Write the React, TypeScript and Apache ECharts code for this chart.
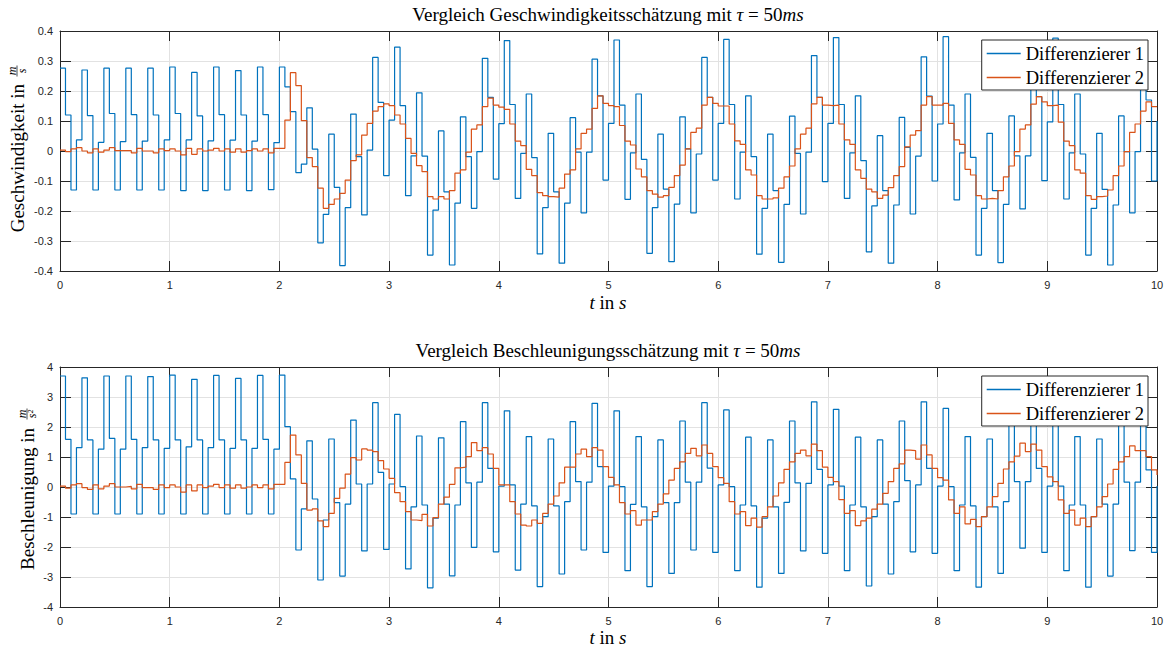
import React, { useEffect, useRef } from "react";
import * as echarts from "echarts";

// ---- data (sample time 50 ms, stairs) ----
const sampleTime = 0.05;
const xTicks = [0, 1, 2, 3, 4, 5, 6, 7, 8, 9, 10];
const seriesNames = ["Differenzierer 1", "Differenzierer 2"];

// Geschwindigkeit, Differenzierer 1
const vel1 = [
  0.276, 0.12, -0.13, 0.037, 0.27, 0.118, -0.13, 0.029, 0.276, 0.125, -0.13, 0.031, 0.276, 0.121, -0.13, 0.033,
  0.276, 0.12, -0.13, 0.037, 0.28, 0.125, -0.132, 0.037, 0.262, 0.117, -0.132, 0.034, 0.28, 0.121, -0.13, 0.036,
  0.268, 0.12, -0.132, 0.033, 0.28, 0.121, -0.129, 0.028,
  0.28, 0.214, 0.131, -0.072, -0.044, 0.144, 0.006, -0.306, -0.211, 0.056, -0.121, -0.382, -0.189, 0.123, -0.019,
  -0.213, 0.003, 0.312, 0.162, -0.082, 0.103, 0.346, 0.151, -0.149, -0.016, 0.194, -0.017, -0.347, -0.197, 0.067,
  -0.136, -0.38, -0.174, 0.114, -0.019, -0.191, -0.002, 0.309, 0.179, -0.094, 0.091, 0.368, 0.155, -0.158, -0.008, 0.19,
  -0.022, -0.343, -0.189, 0.059, -0.136, -0.374, -0.174, 0.111, -0.004, -0.206, -0.004, 0.306, 0.184, -0.097, 0.092,
  0.37, 0.153, -0.161, -0.006, 0.19, -0.028, -0.341, -0.189, 0.056, -0.127, -0.369, -0.177, 0.114, 0.007, -0.206,
  -0.01, 0.312, 0.179, -0.097, 0.092, 0.372, 0.155, -0.16, -0.004,
  0.184, -0.019, -0.344, -0.191, 0.056, -0.132, -0.371, -0.178, 0.116, -0.008, -0.21, -0.004, 0.318, 0.179, -0.102,
  0.092, 0.378, 0.155, -0.158, -0.006, 0.184, -0.032, -0.336, -0.183, 0.051, -0.132, -0.374, -0.18, 0.112, 0.012,
  -0.21, -0.017, 0.314, 0.183, -0.1, 0.09, 0.381, 0.153,
  -0.163, -0.006, 0.19, -0.021, -0.347, -0.191, 0.059, -0.132, -0.372, -0.178, 0.117, -0.016, -0.193, -0.016, 0.31,
  0.181, -0.099, 0.097, 0.376, 0.155, -0.16, -0.006, 0.19, -0.01, -0.347, -0.191, 0.059, -0.128, -0.38, -0.18, 0.117,
  -0.002, -0.206, -0.002, 0.3, 0.17, -0.1, 0.1,
];

// Geschwindigkeit, Differenzierer 2
const vel2 = [
  0.003, -0.002, 0.007, 0.011, 0, -0.006, 0.007, -0.004, 0.003, 0.011, 0.001, 0.001, 0.001, -0.006, 0.009, 0, 0,
  -0.006, 0.007, 0.001, 0.007, 0, -0.013, 0.009, -0.011, 0.007, 0, 0.003, 0.009, 0, 0.007, -0.004, 0.007, -0.004,
  0.001, 0.007, 0, 0.007, -0.006, 0.009, 0.009,
  0.103, 0.261, 0.218, 0.101, -0.022, -0.052, -0.124, -0.191, -0.178, -0.16, -0.141, -0.097, -0.032, -0.013, 0.053,
  0.092, 0.133, 0.148, 0.157, 0.151, 0.12, 0.09, 0.042, -0.008, -0.049, -0.069, -0.152, -0.16, -0.152, -0.16, -0.132,
  -0.074, -0.063, -0.004, 0.073, 0.087, 0.148, 0.176, 0.153, 0.146, 0.139, 0.09, 0.033, 0.018, -0.061,
  -0.082, -0.139, -0.149, -0.152, -0.154, -0.124, -0.077, -0.063, 0.007, 0.059, 0.073, 0.142, 0.184, 0.159, 0.151,
  0.148, 0.085, 0.033, 0.02, -0.06, -0.086, -0.132, -0.144, -0.154, -0.149, -0.121, -0.082, -0.047, 0.007, 0.062,
  0.076, 0.153, 0.179, 0.159, 0.15, 0.15, 0.09, 0.034, 0.022,
  -0.063, -0.08, -0.149, -0.16, -0.16, -0.156, -0.124, -0.086, -0.05, 0.007, 0.056, 0.076, 0.157, 0.179, 0.153,
  0.151, 0.153, 0.09, 0.037, 0.022, -0.063, -0.091, -0.127, -0.136, -0.158, -0.147, -0.122, -0.082, -0.052, 0.014,
  0.053, 0.068, 0.153, 0.181, 0.153, 0.153, 0.159, 0.092,
  0.037, 0.022, -0.061, -0.08, -0.149, -0.16, -0.158, -0.16, -0.132, -0.086, -0.05, -0.002, 0.073, 0.087, 0.156,
  0.181, 0.164, 0.151, 0.153, 0.096, 0.033, 0.018, -0.063, -0.074, -0.149, -0.161, -0.152, -0.15, -0.13, -0.082,
  -0.05, -0.002, 0.062, 0.09, 0.133, 0.164, 0.148, 0.148,
];

// Beschleunigung, Differenzierer 1
const acc1 = [
  3.7, 1.59, -0.9, 1.31, 3.64, 1.57, -0.9, 1.26, 3.7, 1.62, -0.9, 1.26, 3.7, 1.59, -0.9, 1.31, 3.68, 1.57, -0.9, 1.29,
  3.73, 1.57, -0.9, 1.34, 3.59, 1.57, -0.9, 1.31, 3.72, 1.57, -0.9, 1.29, 3.62, 1.57, -0.9, 1.29, 3.72, 1.59, -0.9, 1.26,
  3.73, 2.01, 0.27, -2.1, -0.73, 1.54, -0.4, -3.1, -1.1, 1.6, -0.52, -2.97, -0.57, 2.23, 0.1, -2.13, 0.1, 2.81, 0.49,
  -2.08, 0.1, 2.42, 0.01, -2.73, -0.66, 1.7, -0.6, -3.36, -1.04, 1.64, -0.57, -2.96, -0.6, 2.18, 0.14, -2.01, 0.16,
  2.81, 0.62, -2.16, 0.03, 2.54, 0.07, -2.77, -0.57, 1.68,
  -0.63, -3.32, -0.99, 1.6, -0.63, -2.9, -0.49, 2.18, 0.18, -2.1, 0.16, 2.79, 0.68, -2.18, 0.03, 2.54, 0.01, -2.79,
  -0.58, 1.68, -0.66, -3.32, -0.99, 1.57, -0.52, -2.88, -0.52, 2.2, 0.16, -2.1, 0.16, 2.81, 0.63, -2.18, 0.07, 2.57,
  0.01, -2.79, -0.6,
  1.66, -0.63, -3.34, -1.04, 1.57, -0.66, -2.88, -0.51, 2.2, 0.14, -2.13, 0.12, 2.84, 0.59, -2.21, 0.07, 2.59, 0.03,
  -2.79, -0.6, 1.66, -0.66, -3.3, -0.99, 1.57, -0.57, -2.9, -0.49, 2.2, 0.21, -2.16, 0.07, 2.84, 0.62, -2.21, 0.03,
  2.62, 0.01,
  -2.79, -0.6, 1.68, -0.63, -3.34, -0.99, 1.6, -0.66, -2.88, -0.49, 2.18, 0.18, -2.04, 0.18, 2.8, 0.62, -2.18, 0.03,
  2.55, 0.03, -2.79, -0.6, 1.68, -0.6, -3.34, -0.99, 1.6, -0.57, -2.97, -0.57, 2.2, 0.16, -2.12, 0.16, 2.8, 0.57,
  -2.18, 0.03,
];

// Beschleunigung, Differenzierer 2
const acc2 = [
  0.03, -0.04, 0.07, 0.11, -0.02, -0.08, 0.07, -0.06, 0.03, 0.11, 0, 0, 0.02, -0.06, 0.09, -0.02, -0.02, -0.08, 0.07,
  -0.02, 0.07, 0, -0.17, 0.07, -0.13, 0.07, -0.02, 0.03, 0.09, -0.02, 0.07, -0.04, 0.07, -0.04, 0, 0.07, -0.02, 0.07,
  -0.06, 0.09, 0.09,
  0.82, 1.73, 1.07, 0.12, -0.77, -0.73, -1.13, -1.32, -0.88, -0.38, -0.04, 0.43, 0.98, 0.9, 1.27, 1.23, 1.18, 0.88,
  0.6, 0.29, -0.19, -0.49, -0.82, -1.1, -1.12, -0.91, -1.3, -1.02, -0.57, -0.34, 0.09, 0.64, 0.66, 1.01, 1.48, 1.21,
  1.31, 1.1, 0.62, 0.07, 0.07, -0.49, -0.9, -1.27, -1.3,
  -1.1, -1.21, -0.88, -0.57, -0.3, 0.14, 0.66, 0.66, 1.1, 1.26, 1.01, 1.31, 1.23, 0.68, 0.32, 0.07, -0.52, -0.9,
  -0.79, -1.27, -1.1, -1.1, -0.82, -0.57, -0.23, 0.23, 0.62, 0.84, 1.12, 1.29, 1.04, 1.4, 1.12, 0.68, 0.31, 0.12,
  -0.49, -0.9, -0.82,
  -1.29, -1.04, -1.34, -0.99, -0.66, -0.3, 0.14, 0.59, 0.84, 1.12, 1.23, 1.04, 1.43, 1.21, 0.66, 0.32, 0.18, -0.42,
  -0.88, -0.79, -1.29, -1.13, -1.04, -0.74, -0.57, -0.21, 0.18, 0.62, 0.77, 1.23, 1.21, 0.93, 1.4, 1.07, 0.62, 0.31,
  0.23, -0.43,
  -0.88, -0.66, -1.23, -1.08, -1.32, -0.99, -0.66, -0.32, 0.12, 0.6, 0.84, 1.03, 1.46, 1.18, 1.43, 1.23, 0.68, 0.34,
  0.18, -0.43, -0.88, -0.77, -1.27, -1.04, -1.32, -0.99, -0.66, -0.32, 0.1, 0.59, 0.84, 1.01, 1.37, 1.21, 1.21, 1.01,
  0.57, 0.4,
];

const velTicks = { min: -0.4, max: 0.4, interval: 0.1 };
const accTicks = { min: -4, max: 4, interval: 1 };

const BLUE = "#0072BD";
const ORANGE = "#D95319";
const AX = "#262626";
const SERIF = '"Liberation Serif", "Times New Roman", serif';
const SANS = '"Liberation Sans", Arial, Helvetica, sans-serif';

const toPairs = (vals: number[]) => vals.map((v, i) => [+(i * sampleTime).toFixed(2), v]);

export default function App() {
  const ref = useRef<HTMLDivElement>(null);

  useEffect(() => {
    if (!ref.current) return;
    const chart = echarts.init(ref.current, undefined, { renderer: "svg" });

    const gridDefs = [
      { left: 60, right: 12, top: 31, height: 240 },
      { left: 60, right: 12, top: 367, height: 240 },
    ];

    const mainX = (gi: number) => ({
      type: "value",
      gridIndex: gi,
      position: "bottom",
      min: xTicks[0],
      max: xTicks[xTicks.length - 1],
      interval: 1,
      axisLine: { show: true, onZero: false, lineStyle: { color: AX, width: 1 } },
      axisTick: { show: true, inside: true, length: 10, lineStyle: { color: AX } },
      axisLabel: { show: true, color: AX, fontFamily: SANS, fontSize: 11, margin: 8 },
      splitLine: { show: true, lineStyle: { color: "#e2e2e2", width: 1 } },
    });
    const topX = (gi: number) => ({
      type: "value",
      gridIndex: gi,
      position: "top",
      min: xTicks[0],
      max: xTicks[xTicks.length - 1],
      interval: 1,
      axisLine: { show: true, onZero: false, lineStyle: { color: AX, width: 1 } },
      axisTick: { show: true, inside: true, length: 10, lineStyle: { color: AX } },
      axisLabel: { show: false },
      splitLine: { show: false },
    });
    const leftY = (gi: number, t: any) => ({
      type: "value",
      gridIndex: gi,
      position: "left",
      min: t.min,
      max: t.max,
      interval: t.interval,
      axisLine: { show: true, onZero: false, lineStyle: { color: AX, width: 1 } },
      axisTick: { show: true, inside: true, length: 11, lineStyle: { color: AX } },
      axisLabel: { show: true, color: AX, fontFamily: SANS, fontSize: 11, margin: 7 },
      splitLine: { show: true, lineStyle: { color: "#e2e2e2", width: 1 } },
    });
    const rightY = (gi: number, t: any) => ({
      type: "value",
      gridIndex: gi,
      position: "right",
      min: t.min,
      max: t.max,
      interval: t.interval,
      axisLine: { show: true, onZero: false, lineStyle: { color: AX, width: 1 } },
      axisTick: { show: true, inside: true, length: 11, lineStyle: { color: AX } },
      axisLabel: { show: false },
      splitLine: { show: false },
    });

    const line = (name: string, data: number[], color: string, xi: number, yi: number) => ({
      name,
      type: "line",
      step: "end",
      xAxisIndex: xi,
      yAxisIndex: yi,
      data: toPairs(data),
      showSymbol: false,
      symbol: "none",
      color,
      lineStyle: { color, width: 1.2 },
      z: 3,
    });

    const legend = (top: number) => ({
      orient: "vertical",
      right: 21,
      top,
      data: seriesNames,
      icon: "rect",
      itemWidth: 34,
      itemHeight: 1.6,
      itemGap: 5,
      padding: [4, 4, 3, 5],
      backgroundColor: "#fff",
      borderColor: AX,
      borderWidth: 1,
      borderRadius: 0,
      textStyle: { fontFamily: SERIF, fontSize: 18.5, color: "#000", padding: [0, 0, 0, 0] },
      selectedMode: false,
    });

    const titleRich = {
      n: { fontFamily: SERIF, fontSize: 19, fill: "#000", color: "#000" },
      i: { fontFamily: SERIF, fontSize: 19, fontStyle: "italic", fill: "#000", color: "#000" },
    };
    const mkTitle = (y: number, word: string) => ({
      type: "text",
      x: 608,
      y,
      style: {
        text: `{n|Vergleich ${word} mit }{i|τ}{n| = 50}{i|ms}`,
        rich: titleRich,
        align: "center",
        verticalAlign: "middle",
        fill: "#000",
      },
    });
    const mkXName = (y: number) => ({
      type: "text",
      x: 608,
      y,
      style: {
        text: "{i|t}{n| in }{i|s}",
        rich: titleRich,
        align: "center",
        verticalAlign: "middle",
        fill: "#000",
      },
    });
    const mkYName = (x: number, y: number, label: string, textEnd: number, fracC: number, den: string) => ({
      type: "group",
      x,
      y,
      rotation: Math.PI / 2,
      children: [
        {
          type: "text",
          x: textEnd,
          y: 0,
          style: {
            text: label,
            fontFamily: SERIF,
            fontSize: 19,
            fill: "#000",
            align: "right",
            verticalAlign: "middle",
          },
        },
        {
          type: "text",
          x: fracC,
          y: -5,
          style: {
            text: "m",
            fontFamily: SERIF,
            fontSize: 12,
            fontStyle: "italic",
            fill: "#000",
            align: "center",
            verticalAlign: "middle",
          },
        },
        {
          type: "line",
          shape: { x1: fracC - 5.5, y1: 0, x2: fracC + 5.5, y2: 0 },
          style: { stroke: "#000", lineWidth: 0.7 },
        },
        {
          type: "text",
          x: fracC,
          y: 5,
          style: {
            text: den,
            fontFamily: SERIF,
            fontSize: 12,
            fontStyle: "italic",
            fill: "#000",
            align: "center",
            verticalAlign: "middle",
          },
        },
      ],
    });

    const option: any = {
      animation: false,
      backgroundColor: "#fff",
      grid: gridDefs,
      xAxis: [mainX(0), topX(0), mainX(1), topX(1)],
      yAxis: [leftY(0, velTicks), rightY(0, velTicks), leftY(1, accTicks), rightY(1, accTicks)],
      legend: [legend(40), legend(376)],
      series: [
        line(seriesNames[0], vel1, BLUE, 0, 0),
        line(seriesNames[1], vel2, ORANGE, 0, 0),
        line(seriesNames[0], acc1, BLUE, 2, 2),
        line(seriesNames[1], acc2, ORANGE, 2, 2),
      ],
      graphic: [
        mkTitle(14, "Geschwindigkeitsschätzung"),
        mkTitle(350, "Beschleunigungsschätzung"),
        mkXName(302),
        mkXName(637),
        mkYName(17, 151, "Geschwindigkeit in", 67, 80, "s"),
        mkYName(27, 487, "Beschleunigung in", 59, 73, "s²"),
      ],
    };

    chart.setOption(option);
    return () => chart.dispose();
  }, []);

  return (
    <div
      ref={ref}
      style={{ position: "fixed", left: 0, top: 0, width: 1169, height: 649, background: "#fff" }}
    />
  );
}
